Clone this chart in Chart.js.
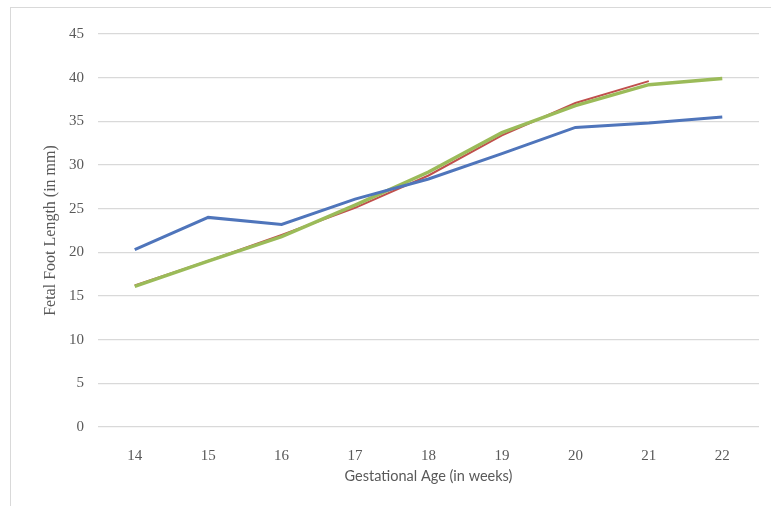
<!DOCTYPE html>
<html>
<head>
<meta charset="utf-8">
<script src="https://cdn.jsdelivr.net/npm/chart.js@4"></script>
<style>
  html, body { margin: 0; padding: 0; background: #fff; }
  #frame {
    position: absolute; left: 10px; top: 7px; width: 761px; height: 499px;
    border-left: 1px solid #d9d9d9; border-top: 1px solid #d9d9d9;
  }
  #wrap { position: absolute; left: 0; top: 0; width: 760px; height: 498px; }
</style>
</head>
<body>
<div id="frame"><div id="wrap"><canvas id="myChart"></canvas></div></div>
<script>
// gestational weeks on the x axis
const weeks = ["14", "15", "16", "17", "18", "19", "20", "21", "22"];

// fetal foot length in mm, three series
const blueSeries = [20.3, 24.0, 23.2, 26.1, 28.4, 31.3, 34.3, 34.8, 35.5];
const redSeries = [16.2, 19.0, 22.0, 25.1, 28.8, 33.4, 37.1, 39.6, null];
const greenSeries = [16.1, 19.0, 21.8, 25.4, 29.2, 33.7, 36.8, 39.2, 39.9];

const yTicks = [0, 5, 10, 15, 20, 25, 30, 35, 40, 45];

const tickFont = { family: "'Liberation Serif', serif", size: 15 };

var ctx = document.getElementById("myChart").getContext('2d');

var myChart = new Chart(ctx, {
  type: 'line',
  data: {
    labels: weeks,
    datasets: [{
      label: 'Series 3',
      data: greenSeries,
      borderColor: '#9bbb59',
      borderWidth: 3.5,
      pointRadius: 0,
      tension: 0,
      order: 1
    }, {
      label: 'Series 2',
      data: redSeries,
      borderColor: '#c0504d',
      borderWidth: 2,
      pointRadius: 0,
      tension: 0,
      order: 2
    }, {
      label: 'Series 1',
      data: blueSeries,
      borderColor: '#4f75bb',
      borderWidth: 3,
      pointRadius: 0,
      tension: 0,
      order: 0
    }]
  },
  options: {
    responsive: true,
    maintainAspectRatio: false,
    animation: false,
    layout: { padding: { top: 26, right: 12, left: 0, bottom: 0 } },
    plugins: {
      legend: { display: false },
      tooltip: { enabled: false }
    },
    scales: {
      x: {
        offset: true,
        grid: { display: false },
        border: { display: false },
        ticks: { color: '#595959', font: tickFont, padding: 12, maxRotation: 0 },
        title: {
          display: true,
          text: 'Gestational Age (in weeks)',
          color: '#595959',
          font: { family: "Lato, 'Open Sans', sans-serif", size: 14.5 },
          padding: { top: 0, bottom: 21 }
        },
        afterFit: function (scale) { scale.height = 79; }
      },
      y: {
        min: 0,
        max: 45,
        afterBuildTicks: function (scale) {
          scale.ticks = yTicks.map(function (v) { return { value: v }; });
        },
        grid: { color: '#d9d9d9', lineWidth: 1.2, drawTicks: false },
        border: { display: false },
        ticks: { color: '#595959', font: tickFont, padding: 14 },
        title: {
          display: true,
          text: 'Fetal Foot Length (in mm)',
          color: '#595959',
          font: { family: "'Liberation Serif', serif", size: 16 },
          padding: { top: 30, bottom: 0 }
        },
        afterFit: function (scale) { scale.width = 87; }
      }
    }
  }
});
</script>
</body>
</html>
